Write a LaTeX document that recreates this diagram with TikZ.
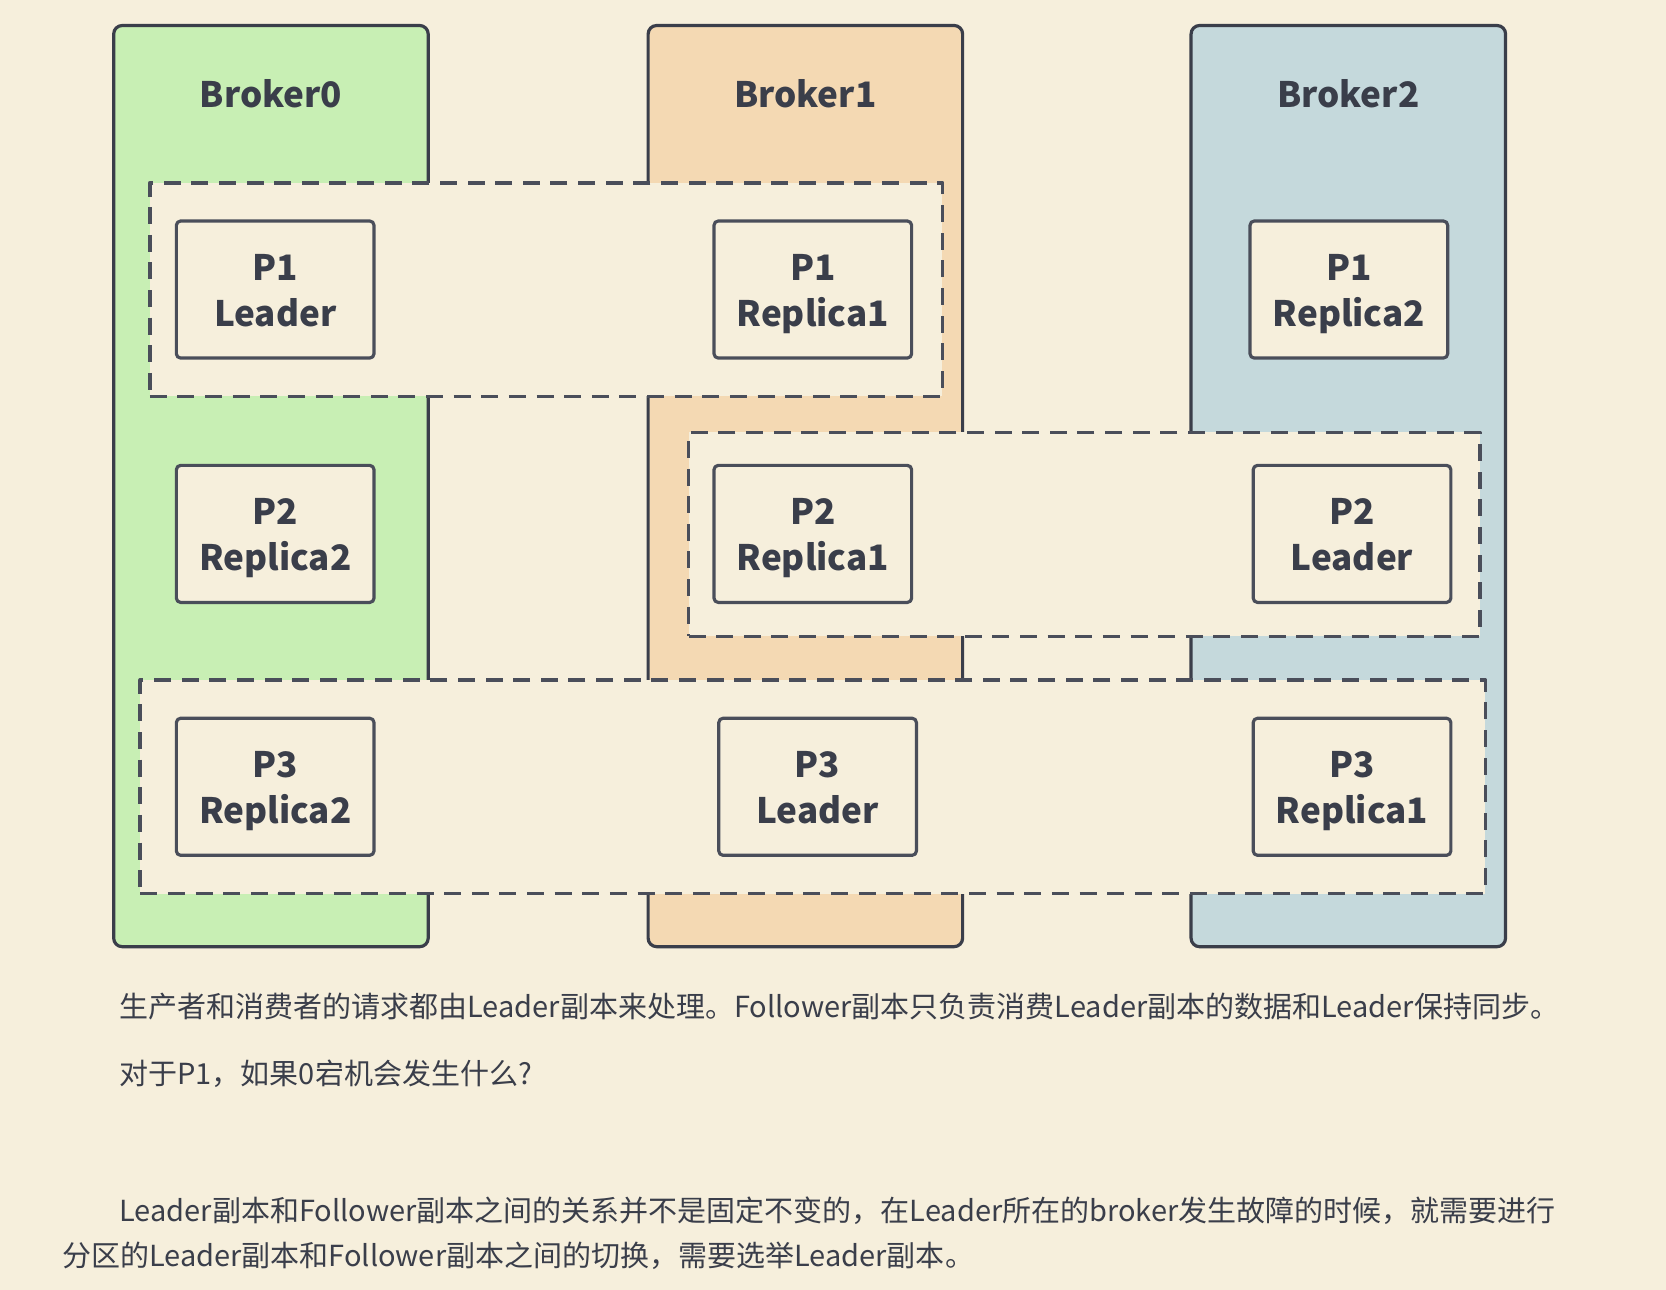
\documentclass[tikz,border=0pt]{standalone}
\usepackage{fontspec}
\setmainfont{Noto Sans CJK SC}
\definecolor{bgc}{RGB}{246,239,220}
\definecolor{inkc}{RGB}{58,62,74}
\definecolor{lnc}{RGB}{74,78,90}
\definecolor{gc}{RGB}{200,239,180}
\definecolor{oc}{RGB}{244,217,179}
\definecolor{bc}{RGB}{197,217,220}
\begin{document}
\begin{tikzpicture}[x=0.5pt,y=-0.5pt,line join=round,line cap=round,
	broker/.style={draw=inkc,line width=1.5pt,rounded corners=4pt,minimum width=148pt,minimum height=433.5pt,inner sep=0pt},
	group/.style={draw=lnc,fill=bgc,line width=1.7pt,dash pattern=on 8pt off 5pt,line cap=butt,inner sep=0pt},
	part/.style={draw=lnc,fill=bgc,line width=1.5pt,rounded corners=2pt,minimum width=93pt,minimum height=64.5pt,inner sep=0pt,
		align=center,font=\fontsize{16.5}{21.5}\selectfont\bfseries,text=inkc},
	txt/.style={anchor=base west,inner sep=0pt,font=\fontsize{13.65}{16}\selectfont,text=inkc}]
	% nền
	\fill[bgc] (0,0) rectangle (1568,1214);
	\useasboundingbox (0,0) rectangle (1568,1214);
	% 3 broker
	\foreach \i/\x/\c in {0/255/gc,1/758/oc,2/1269/bc}{
		\node[broker,fill=\c] (b\i) at (\x,457.5) {};
		\node[font=\fontsize{16.5}{21.5}\selectfont\bfseries,text=inkc] (lb\i) at (\x,88) {Broker\i};
	}
	% các nhóm nét đứt
	\node[group,minimum width=373pt,minimum height=100.5pt] (g1) at (514,272.5) {};
	\node[group,minimum width=372.5pt,minimum height=96pt] (g2) at (1020.5,503) {};
	\node[group,minimum width=633pt,minimum height=100.5pt] (g3) at (765,740.5) {};
	% các phân vùng
	\foreach \n/\x/\y/\t in {p1l/259/272.5/{P1\\Leader},p1a/765/272.5/{P1\\Replica1},p1b/1269.5/272.5/{P1\\Replica2},
		p2b/259/502.5/{P2\\Replica2},p2a/765/502.5/{P2\\Replica1},p2l/1272.5/502.5/{P2\\Leader},
		p3b/259/740.5/{P3\\Replica2},p3l/769.5/740.5/{P3\\Leader},p3a/1272.5/740.5/{P3\\Replica1}}
		\node[part] (\n) at (\x,\y) {};
	\foreach \n/\t in {p1l/{P1\\Leader},p1a/{P1\\Replica1},p1b/{P1\\Replica2},p2b/{P2\\Replica2},p2a/{P2\\Replica1},
		p2l/{P2\\Leader},p3b/{P3\\Replica2},p3l/{P3\\Leader},p3a/{P3\\Replica1}}
		\node[align=center,font=\fontsize{16.5}{21.5}\selectfont\bfseries,text=inkc,inner sep=0pt,yshift=-2pt] at (\n) {\t\vphantom{p}};
	% chữ bên dưới
	\node[txt] (t1) at (112,958) {生产者和消费者的请求都由Leader副本来处理。Follower副本只负责消费Leader副本的数据和Leader保持同步。};
	\node[txt] (t2) at (112,1021) {对于P1，如果0宕机会发生什么?};
	\node[txt] (t3) at (112,1150) {Leader副本和Follower副本之间的关系并不是固定不变的，在Leader所在的broker发生故障的时候，就需要进行};
	\node[txt] (t4) at (58,1192) {分区的Leader副本和Follower副本之间的切换，需要选举Leader副本。};
\end{tikzpicture}
\end{document}
